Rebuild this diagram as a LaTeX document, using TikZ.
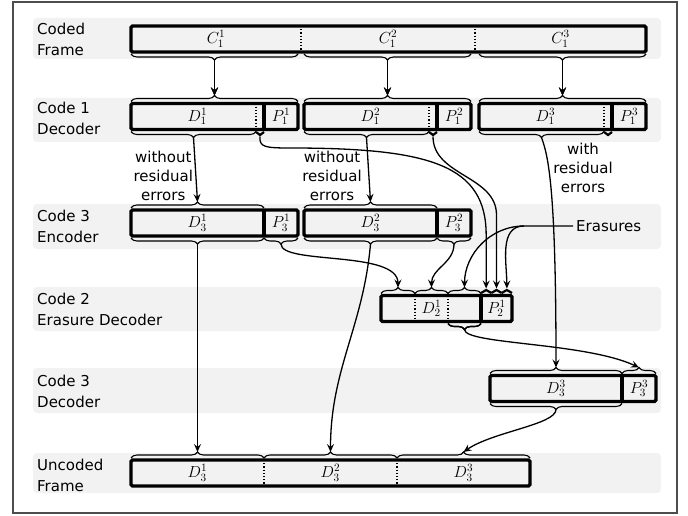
\RequirePackage{fix-cm}
\documentclass[tikz,border=0pt]{standalone}
\usepackage{fontspec}
\newfontfamily\labelfont{DejaVu Sans}
\usetikzlibrary{calc,decorations.pathreplacing,arrows.meta}
\definecolor{bandgray}{HTML}{F2F2F2}
\definecolor{framegray}{HTML}{4D4D4D}
\tikzset{
  band/.style={fill=bandgray, rounded corners=4pt},
  seg/.style={fill=bandgray, inner sep=0pt, outer sep=0pt, minimum height=26pt, anchor=west, font=\fontsize{16}{16}\selectfont},
  boxline/.style={line width=3.2pt, rounded corners=1.5pt},
  sepline/.style={dotted, line width=1.2pt},
  brc/.style={decorate, decoration={brace, amplitude=6pt}, line width=1.1pt},
  tabbrc/.style={decorate, decoration={brace, amplitude=3pt}, line width=2.2pt},
  arr/.style={line width=1.3pt, -{Stealth[length=8pt,width=7pt,inset=3pt]}},
  lbl/.style={anchor=west, align=left, inner sep=0pt, font=\labelfont\fontsize{15}{21}\selectfont},
  note/.style={align=center, inner sep=0pt, font=\labelfont\fontsize{15}{19}\selectfont},
}
% braces above / below a part of a box, tip kept as a coordinate
\newcommand{\bup}[3]{\draw[brc] ($(#1)+(0,-2)$) -- coordinate[midway,yshift=6pt] (#3) ($(#2)+(0,-2)$);}
\newcommand{\bdown}[3]{\draw[brc] ($(#2)+(0,2)$) -- coordinate[midway,yshift=-6pt] (#3) ($(#1)+(0,2)$);}
\newcommand{\tup}[3]{\draw[tabbrc] ($(#1)+(0,-2.5)$) -- coordinate[midway,yshift=4.5pt] (#3) ($(#2)+(0,-2.5)$);}
\newcommand{\tdown}[3]{\draw[tabbrc] ($(#2)+(0,2.5)$) -- coordinate[midway,yshift=-4.5pt] (#3) ($(#1)+(0,2.5)$);}
\begin{document}
\begin{tikzpicture}[x=1pt,y=-1pt]
\useasboundingbox (0,0) rectangle (688,516);
\draw[line width=1.5pt, draw=framegray] (13,2) rectangle (677,513);
% row bands and labels
\foreach \a/\b in {18/59,98/142,204/249,287/331,368/413,453/493}
  \fill[band] (33,\a) rectangle (661,\b);
\node[lbl] (lab1) at (37,39.5) {Coded\\Frame};
\node[lbl] (lab2) at (37,118) {Code 1\\Decoder};
\node[lbl] (lab3) at (37,226) {Code 3\\Encoder};
\node[lbl] (lab4) at (37,309) {Code 2\\Erasure Decoder};
\node[lbl] (lab5) at (37,391) {Code 3\\Decoder};
\node[lbl] (lab6) at (37,475) {Uncoded\\Frame};
% notes
\node[note] (wo2) at (332,176) {without\\residual\\errors};
\node[note] (wo1) at (163.3,176) {without\\residual\\errors};
\node[note] (wi3) at (583,168) {with\\residual\\errors};
\node[note, anchor=west, inner sep=3pt] (er) at (573,226) {Erasures};
\coordinate (ej) at (524,226);
% coded frame
\foreach \n/\x/\w in {1/131/170,2/301/174,3/475/171}
  \node[seg, minimum width=\w pt] (c1\n) at (\x,39) {$C_1^{\n}$};
\foreach \n in {1,2} \draw[sepline] (c1\n.north east) -- (c1\n.south east);
\draw[boxline] (c11.north west) rectangle (c13.south east);
% code 1 decoder
\foreach \n/\x in {1/131,2/304,3/479}{
  \node[seg, minimum width=133pt] (d1\n) at (\x,116.5) {$D_1^{\n}$};
  \node[seg, minimum width=34pt] (p1\n) at (d1\n.east) {$P_1^{\n}$};
  \coordinate (s1\n) at ($(d1\n.south east)+(-8,0)$);
  \draw[sepline] (s1\n |- d1\n.north) -- (s1\n);
  \draw[boxline] (d1\n.north west) rectangle (p1\n.south east);
  \draw[boxline] (p1\n.north west) -- (p1\n.south west);
  \bdown{d1\n.south west |- c1\n.south}{p1\n.south east |- c1\n.south}{r1b\n}
  \bup{d1\n.north west}{p1\n.north east}{r2t\n}
  \bdown{d1\n.south west}{s1\n}{r2b\n}
  \tdown{s1\n}{d1\n.south east}{r2x\n}
}
% code 3 encoder
\foreach \n/\x in {1/131,2/304}{
  \node[seg, minimum width=133pt] (d3\n) at (\x,223) {$D_3^{\n}$};
  \node[seg, minimum width=34pt] (p3\n) at (d3\n.east) {$P_3^{\n}$};
  \draw[boxline] (d3\n.north west) rectangle (p3\n.south east);
  \draw[boxline] (p3\n.north west) -- (p3\n.south west);
  \bup{d3\n.north west}{d3\n.north east}{r3t\n}
  \bdown{d3\n.south west}{d3\n.south east}{r3b\n}
  \bdown{p3\n.south west}{p3\n.south east}{r3p\n}
}
% code 2 erasure decoder
\node[seg, minimum width=34pt] (e1) at (381,308.5) {};
\node[seg, minimum width=33pt] (e2) at (e1.east) {$D_2^1$};
\node[seg, minimum width=33pt] (e3) at (e2.east) {};
\node[seg, minimum width=31pt] (p2) at (e3.east) {$P_2^1$};
\foreach \n in {1,2} \draw[sepline] (e\n.north east) -- (e\n.south east);
\draw[boxline] (e1.north west) rectangle (p2.south east);
\draw[boxline] (p2.north west) -- (p2.south west);
\foreach \n in {1,2,3} \bup{e\n.north west}{e\n.north east}{r4t\n}
\foreach \n/\f in {0/0,1/0.333,2/0.667,3/1}
  \coordinate (q\n) at ($(p2.north west)!\f!(p2.north east)$);
\foreach \n/\m in {0/1,1/2,2/3} \tup{q\n}{q\m}{r4p\m}
\bdown{e3.south west}{e3.south east}{r4b}
% code 3 decoder
\node[seg, minimum width=132pt] (d5) at (490,388.5) {$D_3^3$};
\node[seg, minimum width=34pt] (p5) at (d5.east) {$P_3^3$};
\draw[boxline] (d5.north west) rectangle (p5.south east);
\draw[boxline] (p5.north west) -- (p5.south west);
\bup{d5.north west}{d5.north east}{r5t}
\bup{p5.north west}{p5.north east}{r5p}
\bdown{d5.south west}{d5.south east}{r5b}
% uncoded frame
\foreach \n/\x in {1/131,2/264,3/397}
  \node[seg, minimum width=133pt] (u\n) at (\x,473) {$D_3^{\n}$};
\foreach \n in {1,2} \draw[sepline] (u\n.north east) -- (u\n.south east);
\draw[boxline] (u1.north west) rectangle (u3.south east);
\foreach \n in {1,2,3} \bup{u\n.north west}{u\n.north east}{r6t\n}
% connectors
\foreach \n in {1,2,3} \draw[arr] (r1b\n) -- (r2t\n);
\foreach \n in {1,2} \draw[arr] (r2b\n) -- (r3t\n);
\draw[arr] (r2b3) to[out=-70,in=90,out distance=20pt,in distance=180pt] (r5t);
\draw[arr] (r2x1) .. controls (259,147) and (265,148) .. (290,148)
  .. controls (430,148) and (r4p1 |- 0,165) .. (r4p1 |- 0,235) -- (r4p1);
\draw[arr] (r2x2) to[out=-90,in=90] (r4p2 |- 0,215) -- (r4p2);
\draw[arr] (er.west) -- (ej) to[out=180,in=90] (r4t3);
\draw[arr] (ej) to[out=180,in=90] (r4p3);
\draw[arr] (r3p1) .. controls (281,265) and (398,250) .. (r4t1);
\draw[arr] (r3p2) to[out=-90,in=90] (r4t2);
\draw[arr] (r3b1) -- (r6t1);
\draw[arr] (r3b2) to[out=-95,in=90] (r6t2);
\draw[arr] (r4b) to[out=-90,in=155,out distance=15pt,in distance=60pt] (r5p);
\draw[arr] (r5b) to[out=-90,in=35,out distance=15pt,in distance=35pt] (r6t3);
\end{tikzpicture}
\end{document}
